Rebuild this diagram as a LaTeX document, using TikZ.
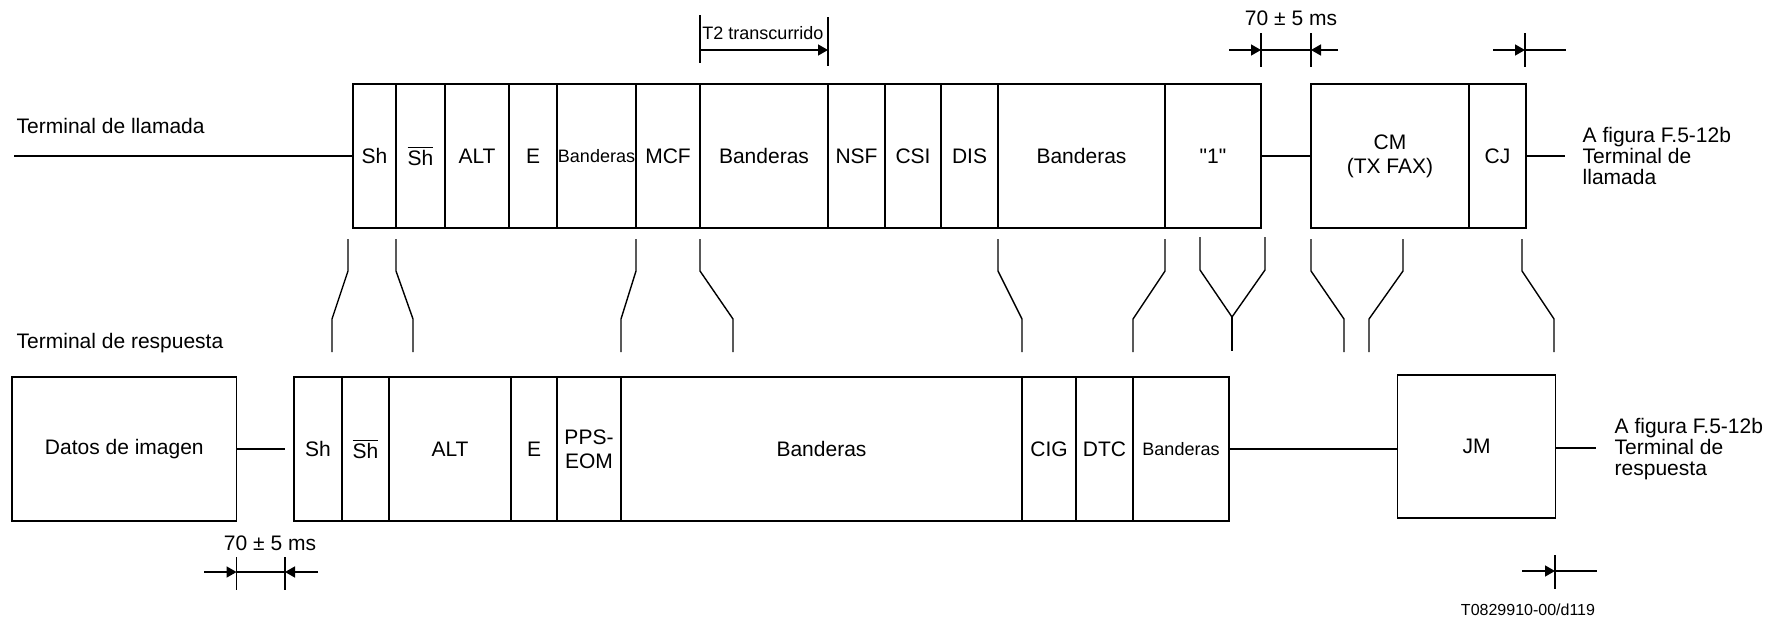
\documentclass[tikz,border=0pt]{standalone}
\usepackage{fontspec}
\setmainfont{Liberation Sans}[Ligatures=TeXOff]
\usetikzlibrary{positioning,arrows.meta}
\newcommand{\shbar}{$\overline{\mbox{Sh}}$}

\begin{document}
\begin{tikzpicture}[x=0.5pt,y=-0.5pt,line width=0.7pt,>={Triangle[length=5pt,width=5.5pt]},
   font=\fontsize{10.5}{12}\selectfont,
   cell/.style={draw,minimum height=72pt,inner sep=0pt,outer sep=0pt,anchor=west,align=center},
   small/.style={font=\fontsize{9}{10}\selectfont},
   tiny/.style={font=\fontsize{8}{9}\selectfont},
   side/.style={anchor=west,align=left,inner sep=0pt,font=\fontsize{10.5}{10.5}\selectfont}]
  \useasboundingbox (0,0) rectangle (1784,621);

  % calling terminal
  \node[anchor=base west,inner sep=0pt] (calllbl) at (16,133) {Terminal de llamada};
  \node[cell,minimum width=21.5pt] (c1) at (353,156) {Sh};
  \node[cell,minimum width=24.5pt,right=0pt of c1] (c2) {\shbar};
  \node[cell,minimum width=32pt,right=0pt of c2] (c3) {ALT};
  \node[cell,minimum width=24pt,right=0pt of c3] (c4) {E};
  \node[cell,small,minimum width=39.5pt,right=0pt of c4] (c5) {Banderas};
  \node[cell,minimum width=32pt,right=0pt of c5] (c6) {MCF};
  \node[cell,minimum width=64pt,right=0pt of c6] (c7) {Banderas};
  \node[cell,minimum width=28.5pt,right=0pt of c7] (c8) {NSF};
  \node[cell,minimum width=28pt,right=0pt of c8] (c9) {CSI};
  \node[cell,minimum width=28.5pt,right=0pt of c9] (c10) {DIS};
  \node[cell,minimum width=83.5pt,right=0pt of c10] (c11) {Banderas};
  \node[cell,minimum width=48pt,right=0pt of c11] (c12) {"1"};
  \node[cell,minimum width=79pt] (cm) at (1311,156) {CM\\(TX FAX)};
  \node[cell,minimum width=28.5pt,right=0pt of cm] (cj) {CJ};
  \node[side] (callref) at (1582,156) {A figura F.5-12b\\Terminal de\\llamada};
  \coordinate (callin) at (14,156);
  \coordinate (callout) at (1565,156);
  \draw (callin) -- (c1);
  \draw (c12) -- (cm);
  \draw (cj) -- (callout);

  % answering terminal
  \node[anchor=base west,inner sep=0pt] (resplbl) at (16,348) {Terminal de respuesta};
  \node[cell,minimum width=112.3pt] (datos) at (12,449) {Datos de imagen};
  \node[cell,minimum width=24pt] (b1) at (294,449) {Sh};
  \node[cell,minimum width=23.5pt,right=0pt of b1] (b2) {\shbar};
  \node[cell,minimum width=61pt,right=0pt of b2] (b3) {ALT};
  \node[cell,minimum width=23pt,right=0pt of b3] (b4) {E};
  \node[cell,minimum width=32pt,right=0pt of b4] (b5) {PPS-\\EOM};
  \node[cell,minimum width=200.5pt,right=0pt of b5] (b6) {Banderas};
  \node[cell,minimum width=27pt,right=0pt of b6] (b7) {CIG};
  \node[cell,minimum width=28.5pt,right=0pt of b7] (b8) {DTC};
  \node[cell,small,minimum width=48pt,right=0pt of b8] (b9) {Banderas};
  \node[cell,minimum width=79pt,minimum height=71.5pt] (jm) at (1397.5,446.5) {JM};
  \node[side] (respref) at (1614,449) {A figura F.5-12b\\Terminal de\\respuesta};
  \coordinate (gap) at (285,449);
  \coordinate (respout) at (1596,448);
  \draw (datos) -- (gap);
  \draw (b9.east) -- (jm.west |- b9.east);
  \draw (jm.east |- respout) -- (respout);

  % mapping lines
  \foreach \t/\b in {348/332,396/413,636/621,700/733,998/1022,1165/1133,1311/1344,1403/1369,1522/1554}
    \draw (\t,239) -- (\t,271) -- (\b,319) -- (\b,352);
  \draw (1200,237) -- (1200,270) -- (1232,317) -- (1265,270) -- (1265,237);
  \draw (1232,317) -- (1232,351);

  % timing marks
  \node[small] (t2) at (763,33) {T2 transcurrido};
  \draw (700,15) -- (700,63) (828,17) -- (828,66);
  \draw[->] (700,50) -- (828,50);
  \node (gaptop) at (1291,18) {70 ± 5 ms};
  \draw (1261,33) -- (1261,67) (1311,33) -- (1311,67) (1261,50) -- (1311,50);
  \draw[->] (1229,50) -- (1261,50);
  \draw[->] (1338,50) -- (1311,50);
  \draw (1525,33) -- (1525,67) (1525,50) -- (1566,50);
  \draw[->] (1493,50) -- (1525,50);
  \node (gapbot) at (270,543) {70 ± 5 ms};
  \draw (236.6,557) -- (236.6,590) (285,557) -- (285,590) (236.6,572) -- (285,572);
  \draw[->] (204,572) -- (236.6,572);
  \draw[->] (318,572) -- (285,572);
  \draw (1555,555) -- (1555,589) (1555,571) -- (1597,571);
  \draw[->] (1522,571) -- (1555,571);
  \node[tiny] (figid) at (1528,610) {T0829910-00/d119};
\end{tikzpicture}
\end{document}
